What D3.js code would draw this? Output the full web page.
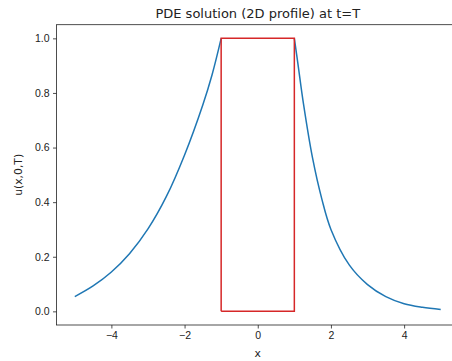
<!DOCTYPE html>
<html>
<head>
<meta charset="utf-8">
<script src="https://cdn.jsdelivr.net/npm/d3@7"></script>
<style>
  body { margin: 0; background: #fff; }
  svg { display: block; font-family: "DejaVu Sans", sans-serif; }
  .tick text { font-size: 10.5px; fill: #222; }
</style>
</head>
<body>
<div id="chart"></div>
<script>
// profile values
var leftX = [-5, -4.5, -4, -3.5, -3, -2.5, -2, -1.5, -1.25, -1];
var leftU = [0.054, 0.093, 0.144, 0.212, 0.302, 0.42, 0.573, 0.757, 0.866, 1.0];
var rightX = [1, 1.1, 1.25, 1.5, 1.75, 2, 2.5, 3, 3.5, 4, 4.5, 5];
var rightU = [1.0, 0.905, 0.76, 0.56, 0.412, 0.30, 0.17, 0.098, 0.054, 0.028, 0.015, 0.007];
// initial box (red)
var boxX = [-1, -1, 1, 1, -1];
var boxU = [0, 1, 1, 0, 0];
var xTicks = [-4, -2, 0, 2, 4];
var yTicks = [0, 0.2, 0.4, 0.6, 0.8, 1.0];

var width = 452, height = 361;
var plotL = 56.5, plotR = 459, plotT = 24.7, plotB = 325;

var svg = d3.select('#chart').append('svg')
  .attr('width', width)
  .attr('height', height);

var x = d3.scaleLinear().domain([-5.5, 5.5]).range([plotL, plotR]);
var y = d3.scaleLinear().domain([-0.05, 1.05]).range([plotB, plotT]);

var line = d3.line()
  .x(function(d) { return x(d[0]); })
  .y(function(d) { return y(d[1]); })
  .curve(d3.curveCatmullRom.alpha(0.5));

var lineStraight = d3.line()
  .x(function(d) { return x(d[0]); })
  .y(function(d) { return y(d[1]); });

var leftPts = leftX.map(function(v, i) { return [v, leftU[i]]; });
var rightPts = rightX.map(function(v, i) { return [v, rightU[i]]; });
var boxPts = boxX.map(function(v, i) { return [v, boxU[i]]; });

svg.append('path')
  .attr('d', line(leftPts))
  .attr('fill', 'none')
  .attr('stroke', '#1f77b4')
  .attr('stroke-width', 1.5);

svg.append('path')
  .attr('d', line(rightPts))
  .attr('fill', 'none')
  .attr('stroke', '#1f77b4')
  .attr('stroke-width', 1.5);

svg.append('path')
  .attr('d', lineStraight(boxPts))
  .attr('fill', 'none')
  .attr('stroke', '#d62728')
  .attr('stroke-width', 1.5);

// axes
var xAxis = svg.append('g')
  .attr('transform', 'translate(0,' + plotB + ')')
  .call(d3.axisBottom(x).tickValues(xTicks).tickSize(3.5).tickPadding(3.5).tickFormat(d3.format('d')));
var yAxis = svg.append('g')
  .attr('transform', 'translate(' + plotL + ',0)')
  .call(d3.axisLeft(y).tickValues(yTicks).tickSize(3.5).tickPadding(3.5).tickFormat(d3.format('.1f')));

[xAxis, yAxis].forEach(function(g) {
  g.select('.domain').remove();
  g.selectAll('.tick line').attr('stroke', '#222').attr('stroke-width', 0.8);
});

// frame
svg.append('rect')
  .attr('x', plotL).attr('y', plotT)
  .attr('width', plotR - plotL).attr('height', plotB - plotT)
  .attr('fill', 'none')
  .attr('stroke', '#222')
  .attr('stroke-width', 0.8);

svg.append('text')
  .attr('x', (plotL + plotR) / 2).attr('y', 18)
  .attr('text-anchor', 'middle')
  .style('font-size', '13px')
  .attr('fill', '#222')
  .text('PDE solution (2D profile) at t=T');

svg.append('text')
  .attr('x', (plotL + plotR) / 2).attr('y', 357)
  .attr('text-anchor', 'middle')
  .style('font-size', '10.8px')
  .attr('fill', '#222')
  .text('x');

svg.append('text')
  .attr('transform', 'translate(22,' + (plotT + plotB) / 2 + ') rotate(-90)')
  .attr('text-anchor', 'middle')
  .style('font-size', '10.8px')
  .attr('fill', '#222')
  .text('u(x,0,T)');
</script>
</body>
</html>
